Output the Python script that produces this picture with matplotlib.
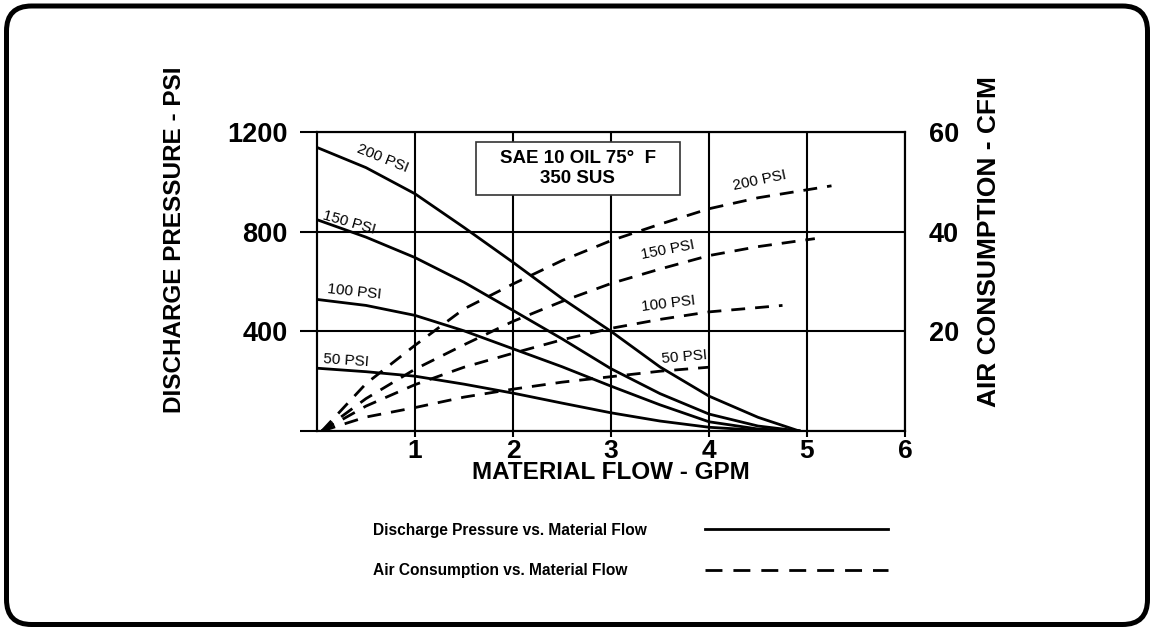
import matplotlib
matplotlib.use("Agg")
import matplotlib.pyplot as plt
from matplotlib.patches import FancyBboxPatch, Rectangle
from matplotlib.lines import Line2D

plt.rcParams['font.family'] = ['Liberation Sans', 'DejaVu Sans']

# discharge pressure (psi) vs material flow (gpm), one curve per inlet air pressure
flow_p = [0, 0.5, 1, 1.5, 2, 2.5, 3, 3.5, 4, 4.5, 4.92]
p200 = [1138, 1057, 952, 817, 677, 532, 400, 257, 140, 55, 0]
p150 = [848, 778, 696, 597, 484, 370, 250, 150, 68, 20, 0]
p100 = [528, 504, 464, 402, 330, 258, 180, 105, 37, 8, 0]
p50 = [252, 238, 220, 188, 152, 112, 73, 40, 15, 3, 0]

# air consumption (cfm) vs material flow (gpm)
a200_x = [0.05, 0.5, 1, 1.5, 2, 2.5, 3, 3.5, 4, 4.5, 5, 5.25]
a200 = [0, 9.5, 17.2, 24.5, 29.5, 34.2, 38.2, 41.5, 44.6, 46.8, 48.4, 49.2]
a150_x = [0.05, 0.5, 1, 1.5, 2, 2.5, 3, 3.5, 4, 4.5, 5.08]
a150 = [0, 6.5, 12.4, 17.3, 22, 26, 29.6, 32.5, 35.2, 37, 38.6]
a100_x = [0.05, 0.5, 1, 1.5, 2, 2.5, 3, 3.5, 4, 4.75]
a100 = [0, 5, 9.3, 12.8, 15.6, 18.3, 20.6, 22.4, 23.9, 25.2]
a50_x = [0.05, 0.5, 1, 1.5, 2, 2.5, 3, 3.5, 4]
a50 = [0, 2.8, 4.7, 6.8, 8.4, 9.8, 10.9, 12, 12.8]

x_ticks = [1, 2, 3, 4, 5, 6]
p_ticks = [0, 400, 800, 1200]
p_labels = ['', '400', '800', '1200']
cfm_ticks = [20, 40, 60]

fig = plt.figure(figsize=(11.53, 6.31), dpi=100)
ax = fig.add_axes([317 / 1153, 1 - 431 / 631, 588 / 1153, 299 / 631])

lw = 2.0
dash = (0, (5, 3.6))

ax.plot(flow_p, p200, color='k', lw=lw)
ax.plot(flow_p, p150, color='k', lw=lw)
ax.plot(flow_p, p100, color='k', lw=lw)
ax.plot(flow_p, p50, color='k', lw=lw)

ax.set_xlim(0, 6)
ax.set_ylim(0, 1200)
ax.set_xticks(x_ticks)
ax.set_yticks(p_ticks)
ax.set_yticklabels(p_labels)
ax.grid(True, color='k', lw=1.5)
ax.set_axisbelow(True)
for s in ax.spines.values():
    s.set_linewidth(1.5)
ax.tick_params(axis='y', length=12, width=1.5, pad=9, labelsize=19.5)
ax.tick_params(axis='x', length=4, width=1.5, pad=2, labelsize=19)
for t in ax.get_xticklabels() + ax.get_yticklabels():
    t.set_fontweight('bold')

ax.set_xlabel('MATERIAL FLOW - GPM', fontsize=17.5, fontweight='bold', labelpad=-1.5)
ax.set_ylabel('DISCHARGE PRESSURE - PSI', fontsize=17.5, fontweight='bold', labelpad=30)
ax.yaxis.label.set_y(0.64)

# curve labels (pressure)
ax.text(0.67, 1092, '200 PSI', fontsize=11, rotation=-22, ha='center', va='center')
ax.text(0.33, 836, '150 PSI', fontsize=11, rotation=-16, ha='center', va='center')
ax.text(0.38, 560, '100 PSI', fontsize=11, rotation=-6, ha='center', va='center')
ax.text(0.30, 282, '50 PSI', fontsize=11, rotation=-4, ha='center', va='center')

# condition box
ax.add_patch(Rectangle((1.62, 948), 2.08, 212, fc='white', ec='#333333', lw=1.2, zorder=3))
ax.text(2.66, 1054, 'SAE 10 OIL 75°  F\n350 SUS', fontsize=13.5, fontweight='bold',
        ha='center', va='center', zorder=4)

ax2 = ax.twinx()
ax2.plot(a200_x, a200, color='k', lw=lw, linestyle=dash)
ax2.plot(a150_x, a150, color='k', lw=lw, linestyle=dash)
ax2.plot(a100_x, a100, color='k', lw=lw, linestyle=dash)
ax2.plot(a50_x, a50, color='k', lw=lw, linestyle=dash)
ax2.set_ylim(0, 60)
ax2.set_yticks(cfm_ticks)
ax2.tick_params(axis='y', length=0, pad=17, labelsize=19.5)
for t in ax2.get_yticklabels():
    t.set_fontweight('bold')
for s in ax2.spines.values():
    s.set_linewidth(1.5)
ax2.set_ylabel('AIR CONSUMPTION - CFM', fontsize=19, fontweight='bold', labelpad=13)
ax2.yaxis.label.set_y(0.632)

# curve labels (air)
ax2.text(4.52, 50.2, '200 PSI', fontsize=11, rotation=12, ha='center', va='center')
ax2.text(3.58, 36.4, '150 PSI', fontsize=11, rotation=11, ha='center', va='center')
ax2.text(3.59, 25.6, '100 PSI', fontsize=11, rotation=7, ha='center', va='center')
ax2.text(3.75, 14.9, '50 PSI', fontsize=11, rotation=5, ha='center', va='center')

# legend drawn by hand: text on the left, sample line on the right
fig.text(373 / 1153, 1 - 530 / 631, 'Discharge Pressure vs. Material Flow',
         fontsize=11.2, fontweight='bold', ha='left', va='center')
fig.text(373 / 1153, 1 - 570 / 631, 'Air Consumption vs. Material Flow',
         fontsize=11.2, fontweight='bold', ha='left', va='center')
fig.add_artist(Line2D([705 / 1153, 888 / 1153], [1 - 529 / 631] * 2,
                      transform=fig.transFigure, color='k', lw=2))
fig.add_artist(Line2D([705 / 1153, 888 / 1153], [1 - 570 / 631] * 2,
                      transform=fig.transFigure, color='k', lw=2,
                      linestyle=(0, (6.1, 3.95))))

# rounded frame around the whole figure
frame = FancyBboxPatch((0.065, 0.065), 11.41, 6.185,
                       boxstyle='round,pad=0,rounding_size=0.25',
                       transform=fig.dpi_scale_trans, fc='none', ec='k', lw=3.6)
fig.add_artist(frame)

fig.savefig('out.png', dpi=100)
